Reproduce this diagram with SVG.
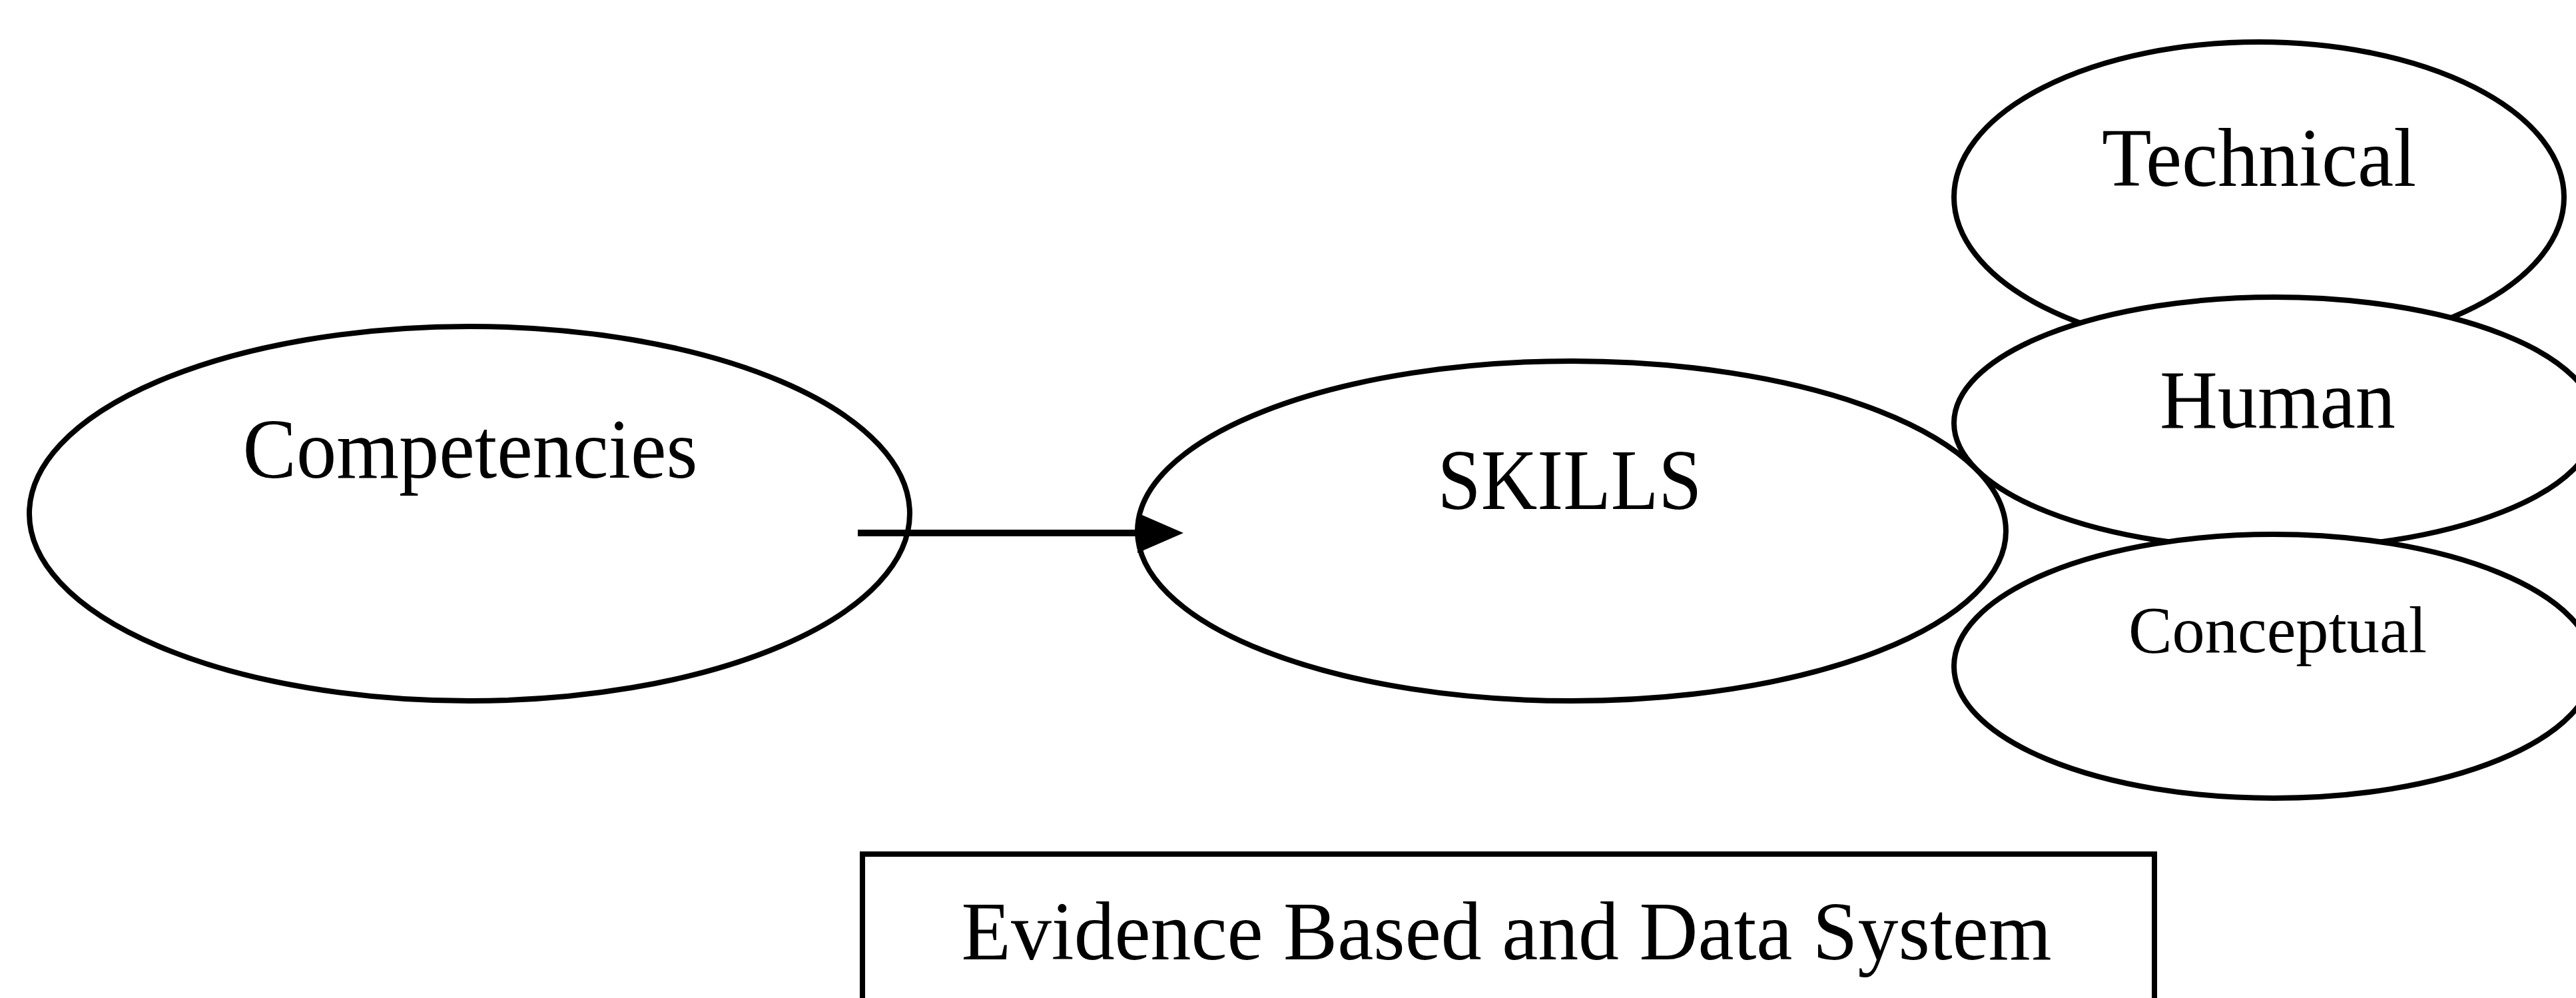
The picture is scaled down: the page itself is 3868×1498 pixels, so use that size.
<svg xmlns="http://www.w3.org/2000/svg" width="3868" height="1498" viewBox="0 0 3868 1498">
<style>
.shape{fill:#fff;stroke:#000;stroke-width:8}
.lbl{font-family:"Liberation Serif","Times New Roman",serif;fill:#000;text-anchor:middle}
.conn{stroke:#000;stroke-width:10;fill:none}
</style>
<defs>
<marker id="arrow" markerUnits="userSpaceOnUse" markerWidth="70" markerHeight="62" refX="0" refY="31" orient="auto">
<path d="M0,1 L69,31 L0,61 Z" fill="#000"/>
</marker>
</defs>
<rect width="3868" height="1498" fill="#fff"/>
<g id="competencies">
<ellipse class="shape" cx="705" cy="771" rx="661" ry="281"/>
<text class="lbl" x="706" y="717" font-size="127" textLength="683" lengthAdjust="spacingAndGlyphs">Competencies</text>
</g>
<g id="skills">
<ellipse class="shape" cx="2360" cy="797" rx="652" ry="255"/>
<text class="lbl" x="2357" y="764" font-size="130" textLength="397" lengthAdjust="spacingAndGlyphs">SKILLS</text>
</g>
<g id="technical">
<ellipse class="shape" cx="3392" cy="296" rx="458" ry="233"/>
<text class="lbl" x="3392" y="279" font-size="125" textLength="472" lengthAdjust="spacingAndGlyphs">Technical</text>
</g>
<g id="human">
<ellipse class="shape" cx="3416" cy="635" rx="482" ry="189"/>
<text class="lbl" x="3420" y="642" font-size="125" textLength="354" lengthAdjust="spacingAndGlyphs">Human</text>
</g>
<g id="conceptual">
<ellipse class="shape" cx="3414" cy="1000" rx="480" ry="198"/>
<text class="lbl" x="3420" y="979" font-size="100" textLength="448" lengthAdjust="spacingAndGlyphs">Conceptual</text>
</g>
<g id="evidence">
<rect class="shape" x="1295" y="1282" width="1940" height="320"/>
<text class="lbl" x="2262" y="1440" font-size="125" textLength="1637" lengthAdjust="spacingAndGlyphs">Evidence Based and Data System</text>
</g>
<g id="connectors">
<line class="conn" x1="1288" y1="800" x2="1708" y2="800" marker-end="url(#arrow)"/>
</g>
</svg>
